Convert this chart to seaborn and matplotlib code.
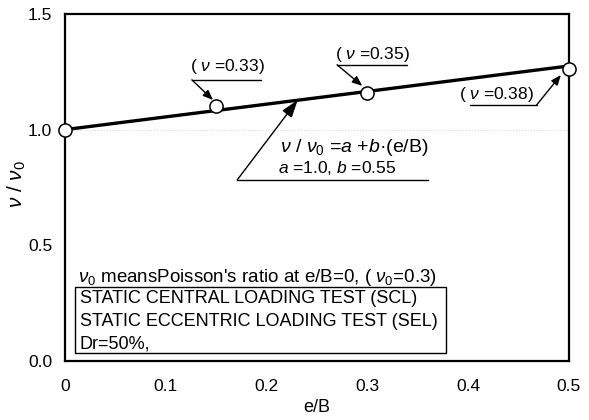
import numpy as np
import matplotlib
matplotlib.use("Agg")
import matplotlib.pyplot as plt
import seaborn as sns
from matplotlib.patches import Rectangle

# ==========================================
# DATA
# ==========================================
eb_points = [0.0, 0.15, 0.30, 0.50]          # e/B of the test points
ratio_points = [1.00, 1.10, 1.16, 1.26]      # nu / nu0
poisson_labels = ["0.33", "0.35", "0.38"]    # nu at the three eccentric points

# fitted line nu/nu0 = a + b*(e/B), a=1.0, b=0.55
fit_x = [0.0, 0.5]
fit_y = [1.0, 1.275]

x_ticks = [0.0, 0.1, 0.2, 0.3, 0.4, 0.5]
x_tick_labels = ["0", "0.1", "0.2", "0.3", "0.4", "0.5"]
y_ticks = [0.0, 0.5, 1.0, 1.5]
y_tick_labels = ["0.0", "0.5", "1.0", "1.5"]

legend_lines = ["STATIC CENTRAL LOADING TEST (SCL)",
                "STATIC ECCENTRIC LOADING TEST (SEL)",
                "Dr=50%,"]

# ==========================================
# STYLE
# ==========================================
sns.set_theme(style="white")
plt.rcParams['font.family'] = ['Liberation Sans', 'DejaVu Sans']
plt.rcParams['mathtext.fontset'] = 'custom'
plt.rcParams['mathtext.rm'] = 'Liberation Sans'
plt.rcParams['mathtext.it'] = 'Liberation Sans:italic'
plt.rcParams['text.color'] = 'black'
plt.rcParams['axes.labelcolor'] = 'black'

fig, ax = plt.subplots(figsize=(5.89, 4.2), dpi=100)
fig.subplots_adjust(left=0.110, right=0.966, top=0.967, bottom=0.140)

ax.axhline(1.0, color='#d8d8d8', ls=':', lw=0.8, zorder=0)

sns.lineplot(x=fit_x, y=fit_y, color='black', linewidth=2.4, ax=ax, zorder=3)
sns.scatterplot(x=eb_points, y=ratio_points, color='white', edgecolor='black',
                s=90, linewidth=1.1, ax=ax, zorder=5, clip_on=False)

ax.set_xlim(0, 0.5)
ax.set_ylim(0, 1.5)
ax.set_xticks(x_ticks)
ax.set_xticklabels(x_tick_labels, fontsize=12.5)
ax.set_yticks(y_ticks)
ax.set_yticklabels(y_tick_labels, fontsize=12.5)
ax.tick_params(axis='both', length=0, colors='black')
ax.tick_params(axis='x', pad=13)
ax.tick_params(axis='y', pad=9)
for sp in ax.spines.values():
    sp.set_color('black')
    sp.set_linewidth(1.6)

ax.set_xlabel("e/B", fontsize=13)
ax.xaxis.set_label_coords(0.5, -0.11)
ax.set_ylabel(r"$\nu$ / $\nu_{\rm 0}$", fontsize=15)
ax.yaxis.set_label_coords(-0.072, 0.51)

# ==========================================
# ANNOTATIONS (callouts with underline + arrow)
# ==========================================
# (text left, text y, underline x0, underline x1, underline y, tail x, tip x, tip y)
callouts = [
    (0.124, 1.271, 0.126, 0.195, 1.215, 0.126, 0.147, 1.128),
    (0.268, 1.323, 0.270, 0.339, 1.280, 0.270, 0.295, 1.189),
    (0.391, 1.150, 0.402, 0.468, 1.107, 0.468, 0.492, 1.236),
]
for lab, (tx, ty, ux0, ux1, uy, ax0, px, py) in zip(poisson_labels, callouts):
    ax.text(tx, ty, "( $\\nu$ =" + lab + ")", fontsize=12.5, ha='left', va='center')
    ax.plot([ux0, ux1], [uy, uy], color='black', lw=1.0)
    ax.annotate("", xy=(px, py), xytext=(ax0, uy),
                arrowprops=dict(arrowstyle='-|>,head_length=0.5,head_width=0.2',
                                color='black', lw=1.0, shrinkA=0, shrinkB=0))

# equation callout
ax.text(0.213, 0.921, r"$\nu$ / $\nu_{\rm 0}$ =$a$ +$b$·(e/B)", fontsize=14,
        ha='left', va='center')
ax.text(0.211, 0.834, r"$a$ =1.0, $b$ =0.55", fontsize=12.5, ha='left', va='center')
ax.plot([0.171, 0.360], [0.783, 0.783], color='black', lw=1.0)
ax.annotate("", xy=(0.231, 1.128), xytext=(0.171, 0.783),
            arrowprops=dict(arrowstyle='-|>,head_length=0.9,head_width=0.3',
                            color='black', lw=1.0, shrinkA=0, shrinkB=0))

# note and legend box
ax.text(0.013, 0.363, r"$\nu_{\rm 0}$ meansPoisson's ratio at e/B=0, ( $\nu_{\rm 0}$=0.3)",
        fontsize=13.5, ha='left', va='center')
ax.add_patch(Rectangle((0.0099, 0.035), 0.368, 0.285, fill=False,
                       edgecolor='black', lw=1.0))
for line, ly in zip(legend_lines, [0.272, 0.173, 0.074]):
    ax.text(0.015, ly, line, fontsize=13, ha='left', va='center')

fig.savefig("out.png", dpi=100)
